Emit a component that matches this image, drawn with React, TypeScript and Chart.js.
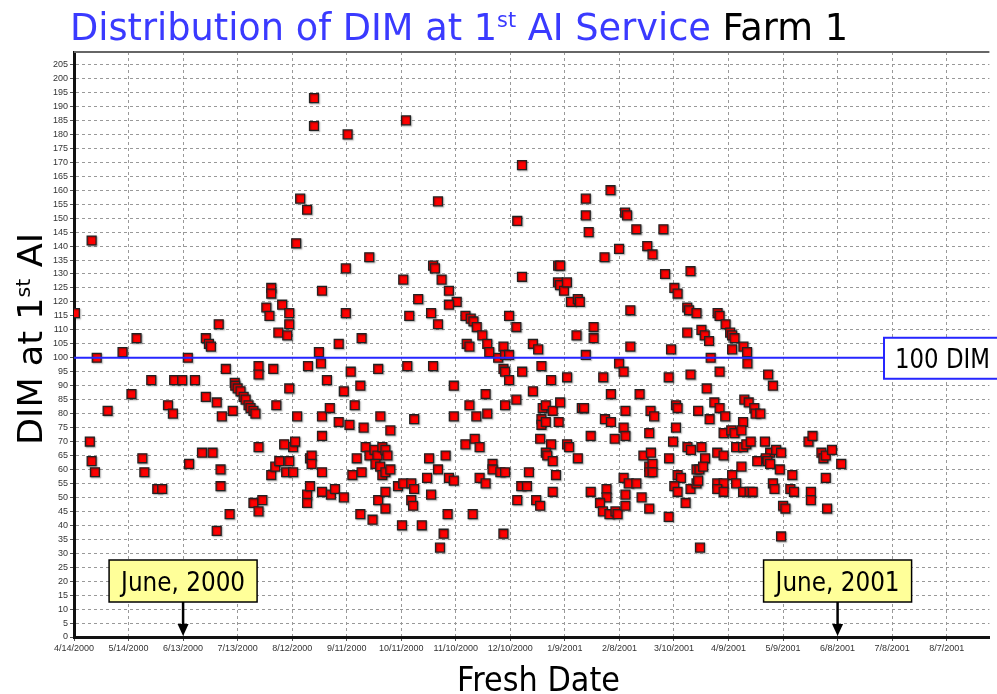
import React, { useEffect, useRef } from 'react';
import { Chart, registerables } from 'chart.js';

Chart.register(...registerables);

// ---- data ----
// x: days since 4/14/2000 (fresh date), y: DIM at 1st AI service
const tickLabels = [
  '4/14/2000', '5/14/2000', '6/13/2000', '7/13/2000', '8/12/2000', '9/11/2000',
  '10/11/2000', '11/10/2000', '12/10/2000', '1/9/2001', '2/8/2001', '3/10/2001',
  '4/9/2001', '5/9/2001', '6/8/2001', '7/8/2001', '8/7/2001',
];
const TICK_STEP_DAYS = 30;
const X_MAX_DAYS = 503.5;
const Y_MAX = 209.5;
const Y_STEP = 5;

const freshDay = [
  0.5, 9.7, 132, 132, 124.4, 128.2, 122.2, 136.4, 108.5, 108.5, 105.8, 107.5, 114.5, 118.4, 118.4, 112.4, 117.3,
  79.6, 34.4, 72.5, 74.2, 75.3, 26.7, 134.7, 145.6,
  8.7, 9.7, 11.5, 12.5, 18.5, 31.6, 37.6, 38.7, 42.5, 45.8, 48.5, 51.7, 54.4, 55.1, 59.5, 62.6, 63.3, 66.5, 70.4,
  72.5, 76.2, 78.5, 78.5, 80.6, 80.6, 81.3, 83.5, 85.6, 87.3, 88.4, 88.7, 90, 91.6, 93.3, 94.4, 96, 97.1, 98.7,
  99.8, 98.7, 101.5, 101.5, 101.5, 101.5, 103.6, 108.5, 109.6, 110.7, 111.3, 112.9, 115.6, 116.7, 118.4, 118.4,
  120.5, 120.5, 121.6, 122.7, 128.7, 128.2, 128.2, 129.8, 130.7, 130.7, 129.8, 135.8, 136.4, 136.4, 136.4, 136.4,
  139.1, 140.7, 141.3, 143.5, 145.6,
  182.6, 150.5, 246.4, 200.2, 243.8, 295.1, 281.5, 281.5, 283.1, 291.8, 162.4, 149.5, 197.5, 198.5, 181.1, 202.2,
  206.2, 189.3, 210.5, 206.2, 184.4, 149.5, 196.4, 200.2, 215.3, 218.2, 219.7, 221.5, 224.6, 227.3, 216, 217.5,
  228.4, 233.3, 236.2, 237.1, 239.3, 239.3, 243.3, 246.4, 252.4, 255.3, 158.2, 266.3, 267.4, 266.2, 267.3, 269.5,
  271.1, 273.3, 277.1, 278.2, 276.4, 285.8, 285.8, 281.5,
  148.4, 148.4, 152.2, 151.5, 157.5, 154.4, 159.3, 153.1, 155.5, 158.2, 157.5, 164.2, 160.4, 162.5, 165.3, 166.9,
  165.8, 168.4, 169.6, 171.3, 172.4, 169.6, 171.3, 174, 167.3, 168.5, 174, 167.3, 171.3, 171.3, 178.2, 181.1,
  185.5, 187.1, 185.5, 186.5, 180.4, 183.3, 187.1, 191.3, 194.2, 195.3, 197.5, 196.4, 200.2, 203.3, 201.3, 204.4,
  205.5, 206.2, 208.9, 208.9, 208.9, 215.3, 217.5, 220.4, 219.3, 221.3, 223.1, 223.1, 226.4, 226.4, 227.3, 230.2,
  230.2, 234.5, 237.1, 236.2, 236.2, 237.1, 239.3, 237.1, 243.3, 243.8, 246, 249.1, 246.5, 250.2, 252.4, 254.2,
  256.4, 257.1, 262.4, 257.8, 259.5, 263.3, 257.1, 257.1, 259.5, 266.6, 256.4, 262.4, 259.5, 260.3, 263.3, 265.1,
  263.3, 267.4, 271.2, 271.2, 272.3, 277.1, 279.3, 280.5, 284.2, 284.2, 291.1, 295.3, 292, 295.3, 297.4, 292.9,
  292.9, 289.3, 290.9, 294.5, 297.8,
  303.1, 304.2, 309.3, 324.2, 299.8, 315.3, 318.2, 325.1, 339.1, 330.2, 332, 306, 306, 328.4, 337.3, 338.3, 342.4,
  337.3, 345.1, 346.9, 349.3, 350.2, 354, 355.1, 358.4, 360.9, 362, 363.3, 362, 368.2, 370.2,
  370.4, 299.8, 302.3, 327.1, 339.1, 355.1, 381.8, 384.4, 311.1, 348, 331.1, 332, 343.3, 303.3, 317.1, 319.1,
  352.2, 355.1, 358.2, 368.7, 371.1, 374.2, 374.9, 377.5, 302.3, 331.1, 349.6, 368, 303.3, 316.4, 329.5, 357.3,
  361.5, 363.3, 367.1, 337.4, 339.3, 345.1, 353.8, 357.3, 364.2, 368, 369.8, 372.2, 380, 382.9, 386.2, 388.9,
  380.5, 381.4, 382.9, 375.8, 388.2, 404, 406.2, 411.1, 412.2, 413.5, 416.9, 422, 313.2, 317.3, 316.4, 318.2,
  316.4, 318.2, 327.3, 347.1, 342.4, 344, 346, 367.1, 302.3, 305.1, 309.3, 332, 333.8, 362, 330.2, 332, 339.1,
  342.4, 343.3, 353.8, 357.3, 353.8, 357.3, 364.2, 368, 371.6, 373.3, 384.4, 385.3, 395.1, 394, 396, 405.3,
  405.3, 413.5, 299, 303.3, 303.3, 312.2, 316.4, 327.1, 336.4, 344.3, 388.9, 390, 391.3, 414.2,
];

const dimAtFirstAI = [
  116, 142, 193, 183, 157, 153, 141, 124, 125, 123, 118, 115, 119, 116, 112, 109, 108,
  112, 107, 107, 105, 104, 102, 102, 105,
  70, 63, 59, 100, 81, 87, 64, 59, 92, 53, 53, 83, 80, 92, 92, 100, 62, 92, 66,
  86, 66, 84, 38, 60, 54, 79, 96, 44, 81, 91, 90, 89, 88, 86, 85, 83, 82, 81,
  80, 48, 45, 97, 94, 68, 49, 58, 96, 61, 83, 63, 69, 59, 63, 89,
  59, 68, 70, 79, 97, 51, 48, 64, 65, 62, 54, 98, 79, 72, 59, 52,
  92, 82, 51, 53, 77,
  185, 180, 169, 156, 149, 160, 157, 151, 145, 136, 136, 132, 133, 132, 128, 128,
  124, 121, 120, 119, 115, 116, 116, 112, 115, 114, 113, 111, 108, 105, 105, 104,
  102, 100, 104, 101, 101, 115, 111, 129, 105, 103, 107, 133, 133, 127, 126, 124,
  127, 120, 121, 120, 108, 111, 107, 101,
  50, 88, 95, 76, 90, 83, 75, 58, 64, 59, 44, 42, 68, 65, 67, 65,
  62, 61, 68, 67, 65, 58, 59, 60, 96, 79, 74, 49, 52, 46, 54, 55,
  55, 53, 49, 47, 40, 97, 78, 40, 57, 64, 97, 51, 60, 37, 32, 65,
  44, 57, 56, 90, 79, 69, 83, 71, 44, 79, 68, 57, 55, 87, 80, 62,
  60, 59, 59, 37, 96, 95, 92, 83, 85, 49, 54, 54, 95, 59, 88, 49,
  47, 97, 92, 82, 83, 81, 78, 76, 77, 77, 71, 69, 66, 65, 63, 58,
  52, 84, 93, 69, 68, 64, 82, 82, 72, 52, 93, 87, 78, 77, 71, 53,
  50, 48, 45, 44, 45,
  152, 151, 146, 146, 139, 140, 137, 130, 131, 125, 123, 117, 104, 103, 118, 117, 116,
  109, 110, 108, 106, 100, 116, 115, 112, 109, 108, 107, 103, 104, 102,
  98, 98, 95, 93, 94, 95, 94, 90, 87, 89, 83, 82, 81, 81, 81, 79,
  84, 82, 79, 85, 84, 82, 80, 80, 75, 75, 78, 77, 72, 73, 70, 73,
  74, 73, 74, 68, 67, 68, 66, 65, 68, 68, 69, 70, 70, 66, 67, 66,
  64, 63, 62, 63, 60, 70, 72, 66, 64, 65, 67, 62, 65, 66, 61, 62,
  59, 59, 64, 64, 60, 60, 61, 61, 57, 55, 55, 58, 57, 58, 54, 52, 53,
  55, 56, 55, 55, 53, 52, 55, 52, 52, 52, 55, 53, 58, 53, 52, 52,
  49, 57, 44, 51, 47, 50, 46, 43, 48, 32, 36, 47, 46, 46,
];

const referenceDIM = 100;
const referenceLabel = '100 DIM';
const markerLabels = ['June, 2000', 'June, 2001'];
const markerDays = [60, 420];

const TEXT_FONT = '"DejaVu Sans"';

type Part = { text: string; color: string; sup?: boolean };

function drawRich(
  ctx: CanvasRenderingContext2D,
  parts: Part[],
  x: number,
  y: number,
  targetWidth: number,
  size: number,
) {
  const base = `${size}px ${TEXT_FONT}`;
  const supF = `${Math.round(size * 0.58)}px ${TEXT_FONT}`;
  let w = 0;
  for (const p of parts) {
    ctx.font = p.sup ? supF : base;
    w += ctx.measureText(p.text).width;
  }
  const s = targetWidth / w;
  ctx.save();
  ctx.translate(x, y);
  ctx.scale(s, 1);
  ctx.textAlign = 'left';
  ctx.textBaseline = 'alphabetic';
  let cx = 0;
  for (const p of parts) {
    ctx.font = p.sup ? supF : base;
    ctx.fillStyle = p.color;
    ctx.fillText(p.text, cx, p.sup ? -size * 0.36 : 0);
    cx += ctx.measureText(p.text).width;
  }
  ctx.restore();
}

const decorPlugin = {
  id: 'decor',
  beforeDatasetsDraw(chart: any) {
    const { ctx } = chart;
    ctx.save();
    ctx.shadowColor = 'rgba(0,0,0,0.35)';
    ctx.shadowOffsetX = 1;
    ctx.shadowOffsetY = 1;
    ctx.shadowBlur = 1.5;
  },
  afterDatasetsDraw(chart: any) {
    chart.ctx.restore();
  },
  afterDraw(chart: any) {
    const { ctx, chartArea } = chart;
    const xs = chart.scales.x;
    const ys = chart.scales.y;
    ctx.save();

    // top border of plot area
    ctx.strokeStyle = '#666';
    ctx.lineWidth = 2;
    ctx.beginPath();
    ctx.moveTo(chartArea.left, chartArea.top);
    ctx.lineTo(chartArea.right, chartArea.top);
    ctx.stroke();

    // reference line and label box
    const yRef = ys.getPixelForValue(referenceDIM);
    const boxLeft = 884;
    ctx.strokeStyle = '#2626ff';
    ctx.lineWidth = 2;
    ctx.beginPath();
    ctx.moveTo(chartArea.left, yRef);
    ctx.lineTo(boxLeft, yRef);
    ctx.stroke();
    ctx.fillStyle = '#ffffff';
    ctx.fillRect(boxLeft, yRef - 20, 130, 41);
    ctx.strokeRect(boxLeft, yRef - 20, 130, 41);
    drawRich(ctx, [{ text: referenceLabel, color: '#000' }], 895, yRef + 10, 95, 26);

    // month markers
    const y0 = ys.getPixelForValue(0);
    markerLabels.forEach((label, i) => {
      const cx = xs.getPixelForValue(markerDays[i]);
      const bw = 148;
      const top = y0 - 77;
      const bh = 42;
      ctx.fillStyle = '#ffff99';
      ctx.fillRect(cx - bw / 2, top, bw, bh);
      ctx.strokeStyle = '#000';
      ctx.lineWidth = 1.5;
      ctx.strokeRect(cx - bw / 2, top, bw, bh);
      drawRich(ctx, [{ text: label, color: '#000' }], cx - 62, y0 - 46, 124, 27);
      ctx.lineWidth = 2.5;
      ctx.beginPath();
      ctx.moveTo(cx, top + bh);
      ctx.lineTo(cx, y0 - 10);
      ctx.stroke();
      ctx.fillStyle = '#000';
      ctx.beginPath();
      ctx.moveTo(cx - 5.5, y0 - 13);
      ctx.lineTo(cx + 5.5, y0 - 13);
      ctx.lineTo(cx, y0 - 1);
      ctx.closePath();
      ctx.fill();
    });

    // title
    drawRich(
      ctx,
      [
        { text: 'Distribution of DIM at 1', color: '#3a3aff' },
        { text: 'st', color: '#3a3aff', sup: true },
        { text: ' AI Service', color: '#3a3aff' },
        { text: ' Farm 1', color: '#000' },
      ],
      70,
      40,
      778,
      37,
    );

    // y axis title (rotated)
    ctx.save();
    ctx.translate(42, 445);
    ctx.rotate(-Math.PI / 2);
    drawRich(
      ctx,
      [
        { text: 'DIM at 1', color: '#000' },
        { text: 'st', color: '#000', sup: true },
        { text: ' AI', color: '#000' },
      ],
      0,
      0,
      212,
      34,
    );
    ctx.restore();

    // x axis title
    drawRich(ctx, [{ text: 'Fresh Date', color: '#000' }], 457, 691, 163, 33);

    ctx.restore();
  },
};

export default function App() {
  const ref = useRef<HTMLCanvasElement | null>(null);

  useEffect(() => {
    if (!ref.current) return;
    const points = freshDay.map((d, i) => ({ x: d, y: dimAtFirstAI[i] }));
    const chart = new Chart(ref.current, {
      type: 'scatter',
      data: {
        datasets: [
          {
            label: 'DIM at 1st AI',
            data: points,
            pointStyle: 'rect',
            radius: 6.3,
            hoverRadius: 6.3,
            backgroundColor: '#ff0000',
            borderColor: '#222222',
            borderWidth: 1.3,
          },
        ],
      },
      options: {
        animation: false,
        responsive: false,
        maintainAspectRatio: false,
        devicePixelRatio: 1,
        layout: { padding: { top: 52, left: 0, right: 0, bottom: 0 } },
        plugins: {
          legend: { display: false },
          tooltip: { enabled: false },
          title: { display: false },
        },
        scales: {
          x: {
            type: 'linear',
            min: 0,
            max: X_MAX_DAYS,
            afterFit: (scale: any) => {
              scale.height = 57;
            },
            ticks: {
              stepSize: TICK_STEP_DAYS,
              includeBounds: false,
              autoSkip: false,
              maxRotation: 0,
              minRotation: 0,
              padding: 2,
              color: '#333',
              font: { family: '"Liberation Sans"', size: 9 },
              callback: (v: any) => {
                const idx = Math.round(Number(v) / TICK_STEP_DAYS);
                return tickLabels[idx] ?? '';
              },
            },
            grid: {
              color: '#999999',
              lineWidth: 1,
              tickLength: 4,
              tickColor: '#555',
              tickBorderDash: [],
            },
            border: { color: '#111', width: 3, dash: [3, 3] },
          },
          y: {
            type: 'linear',
            min: 0,
            max: Y_MAX,
            afterFit: (scale: any) => {
              scale.width = 74;
            },
            ticks: {
              stepSize: Y_STEP,
              includeBounds: false,
              autoSkip: false,
              padding: 2,
              color: '#333',
              font: { family: '"Liberation Sans"', size: 9 },
            },
            grid: {
              color: '#999999',
              lineWidth: 1,
              tickLength: 4,
              tickColor: '#555',
              tickBorderDash: [],
            },
            border: { color: '#111', width: 3, dash: [3, 3] },
          },
        },
      } as any,
      plugins: [decorPlugin],
    });
    return () => chart.destroy();
  }, []);

  return (
    <div style={{ position: 'fixed', left: 0, top: 0, width: 997, height: 694, background: '#fff' }}>
      <canvas ref={ref} width={997} height={694} style={{ width: 997, height: 694, display: 'block' }} />
    </div>
  );
}
